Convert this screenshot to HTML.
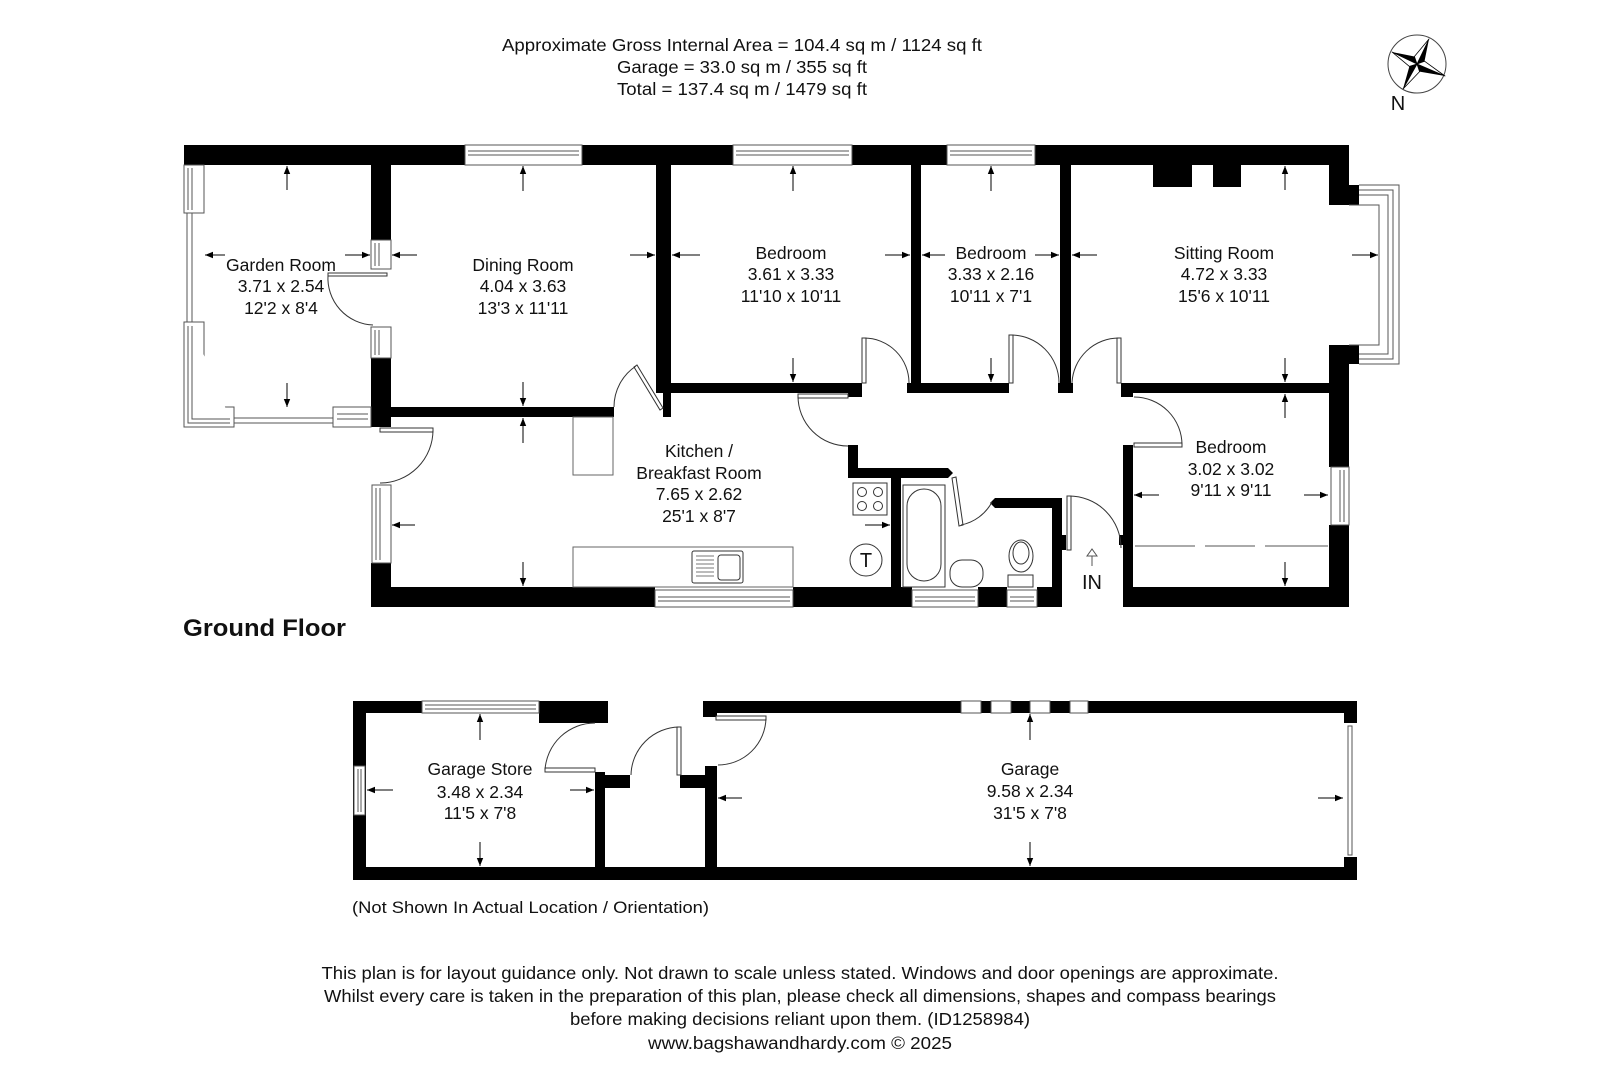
<!DOCTYPE html>
<html><head><meta charset="utf-8"><style>
html,body{margin:0;padding:0;background:#fff}
svg{display:block}
text{font-family:"Liberation Sans",Arial,sans-serif;fill:#111}
</style></head><body>
<svg width="1600" height="1080" viewBox="0 0 1600 1080" xmlns="http://www.w3.org/2000/svg">
<defs>
<marker id="ah" viewBox="0 0 10 10" refX="10" refY="5" markerWidth="8" markerHeight="8" markerUnits="userSpaceOnUse" orient="auto"><path d="M0,1 L10,5 L0,9 z" fill="#000"/></marker>
</defs>

<!-- header -->
<g font-size="17.5" text-anchor="middle">
<text x="742" y="51" textLength="480" lengthAdjust="spacingAndGlyphs">Approximate Gross Internal Area = 104.4 sq m / 1124 sq ft</text>
<text x="742" y="73" textLength="250" lengthAdjust="spacingAndGlyphs">Garage = 33.0 sq m / 355 sq ft</text>
<text x="742" y="95" textLength="250" lengthAdjust="spacingAndGlyphs">Total = 137.4 sq m / 1479 sq ft</text>
</g>

<!-- compass -->
<g stroke-linejoin="round">
<circle cx="1417" cy="64" r="29" fill="none" stroke="#444" stroke-width="1"/>
<path d="M1417,64 L1429,39 L1424.5,61.2 z" fill="#000"/>
<path d="M1417,64 L1429,39 L1414.4,56.5 z" fill="#fff" stroke="#000" stroke-width="0.8"/>
<path d="M1417,64 L1445,76 L1419.6,71.6 z" fill="#000"/>
<path d="M1417,64 L1445,76 L1424.5,61.2 z" fill="#fff" stroke="#000" stroke-width="0.8"/>
<path d="M1417,64 L1403,89 L1409.4,66.4 z" fill="#000"/>
<path d="M1417,64 L1403,89 L1419.6,71.6 z" fill="#fff" stroke="#000" stroke-width="0.8"/>
<path d="M1417,64 L1392,52 L1414.4,56.5 z" fill="#000"/>
<path d="M1417,64 L1392,52 L1409.4,66.4 z" fill="#fff" stroke="#000" stroke-width="0.8"/>
<text x="1398" y="110" font-size="20" text-anchor="middle">N</text>
</g>

<!-- ============ GROUND FLOOR WALLS ============ -->
<g fill="#000">
<rect x="184" y="145" width="1165" height="20"/>
<rect x="371" y="145" width="20" height="95"/>
<rect x="371" y="358" width="20" height="69"/>
<rect x="391" y="407" width="223" height="10"/>
<rect x="656" y="145" width="15" height="248"/>
<rect x="663" y="393" width="8" height="24"/>
<rect x="671" y="383" width="191" height="10"/>
<rect x="848" y="383" width="14" height="14"/>
<rect x="911" y="165" width="10" height="228"/>
<rect x="907" y="383" width="102" height="10"/>
<rect x="1060" y="165" width="11" height="228"/>
<rect x="1058" y="383" width="15" height="10"/>
<rect x="1121" y="383" width="228" height="10"/>
<rect x="1121" y="383" width="12" height="14"/>
<rect x="1153" y="165" width="39" height="22"/>
<rect x="1213" y="165" width="28" height="22"/>
<rect x="1329" y="145" width="20" height="60"/>
<rect x="1329" y="185" width="30" height="20"/>
<rect x="1329" y="345" width="30" height="19"/>
<rect x="1329" y="345" width="20" height="122"/>
<rect x="1329" y="525" width="20" height="82"/>
<rect x="1123" y="587" width="226" height="20"/>
<rect x="1123" y="445" width="10" height="162"/>
<rect x="1119" y="535" width="14" height="10"/>
<rect x="371" y="563" width="20" height="44"/>
<rect x="371" y="587" width="284" height="20"/>
<rect x="793" y="587" width="119" height="20"/>
<rect x="978" y="587" width="29" height="20"/>
<rect x="1037" y="587" width="25" height="20"/>
<rect x="848" y="445" width="10" height="33"/>
<path d="M848,468 L948,468 L953,473 L948,478 L848,478 z"/>
<rect x="891" y="478" width="10" height="128"/>
<path d="M995,498 L1062,498 L1062,508 L995,508 L990,503 z"/>
<rect x="1052" y="498" width="10" height="109"/>
<rect x="1062" y="535" width="4" height="15"/>
</g>

<!-- windows (ground floor) -->
<g fill="#fff" stroke="#555" stroke-width="1">
<rect x="465" y="145" width="117" height="20"/><line x1="468" y1="151" x2="579" y2="151"/><line x1="468" y1="155" x2="579" y2="155"/>
<rect x="733" y="145" width="119" height="20"/><line x1="736" y1="151" x2="849" y2="151"/><line x1="736" y1="155" x2="849" y2="155"/>
<rect x="947" y="145" width="88" height="20"/><line x1="950" y1="151" x2="1032" y2="151"/><line x1="950" y1="155" x2="1032" y2="155"/>
<rect x="184" y="165" width="20" height="48"/><line x1="188" y1="168" x2="188" y2="210"/><line x1="192" y1="168" x2="192" y2="210"/>
<rect x="187" y="213" width="5" height="109"/>
<path d="M184,322 L204,322 L204,407 L234,407 L234,427 L184,427 z"/>
<path d="M188,326 L188,423 L230,423 M192,326 L192,419 L230,419"/>
<rect x="234" y="418" width="99" height="5"/>
<rect x="333" y="407" width="38" height="20"/><line x1="337" y1="414" x2="368" y2="414"/><line x1="337" y1="419" x2="368" y2="419"/>
<rect x="371" y="240" width="20" height="29"/><line x1="375" y1="243" x2="375" y2="266"/><line x1="379" y1="243" x2="379" y2="266"/>
<rect x="371" y="327" width="20" height="31"/><line x1="375" y1="330" x2="375" y2="355"/><line x1="379" y1="330" x2="379" y2="355"/>
<rect x="372" y="485" width="19" height="78"/><line x1="376" y1="488" x2="376" y2="560"/><line x1="380" y1="488" x2="380" y2="560"/>
<rect x="655" y="590" width="138" height="17"/><line x1="658" y1="597" x2="790" y2="597"/><line x1="658" y1="601" x2="790" y2="601"/>
<rect x="912" y="590" width="66" height="17"/><line x1="915" y1="597" x2="975" y2="597"/><line x1="915" y1="601" x2="975" y2="601"/>
<rect x="1007" y="590" width="30" height="17"/><line x1="1010" y1="597" x2="1034" y2="597"/><line x1="1010" y1="601" x2="1034" y2="601"/>
<rect x="1331" y="467" width="18" height="58"/><line x1="1340" y1="470" x2="1340" y2="522"/><line x1="1344" y1="470" x2="1344" y2="522"/>
<path d="M1359,185 L1399,185 L1399,364 L1359,364" fill="none"/>
<path d="M1359,190 L1393,190 L1393,359 L1359,359" fill="none"/>
<path d="M1359,195 L1388,195 L1388,354 L1359,354" fill="none"/>
<path d="M1349,205 L1379,205 L1379,345 L1349,345" fill="none"/>
</g>

<!-- doors -->
<g fill="none" stroke="#333" stroke-width="1">
<rect x="328" y="273" width="59" height="3" fill="#fff"/>
<path d="M328,275 A47,47 0 0 0 373,325"/>
<rect x="380" y="428" width="53" height="4" fill="#fff"/>
<path d="M433,430 A53,53 0 0 1 380,483"/>
<path d="M637,365 L663,408 L660,410 L634,367 z" fill="#fff"/>
<path d="M614,407 A49,49 0 0 1 636,366"/>
<rect x="798" y="394" width="50" height="4" fill="#fff"/>
<path d="M798,396 A50,50 0 0 0 848,446"/>
<rect x="862" y="338" width="4" height="45" fill="#fff"/>
<path d="M864,338 A45,45 0 0 1 909,383"/>
<rect x="1009" y="335" width="4" height="48" fill="#fff"/>
<path d="M1011,335 A48,48 0 0 1 1059,383"/>
<rect x="1117" y="338" width="4" height="45" fill="#fff"/>
<path d="M1119,338 A47,47 0 0 0 1072,383"/>
<rect x="1134" y="443" width="48" height="4" fill="#fff"/>
<path d="M1134,397 A48,48 0 0 1 1182,445"/>
<path d="M952,478 L956,477 L963,525 L959,526 z" fill="#fff"/>
<path d="M961,525 A45,45 0 0 0 992,502"/>
<rect x="1067" y="496" width="4" height="54" fill="#fff"/>
<path d="M1069,496 A52,52 0 0 1 1121,548"/>
<rect x="573" y="417" width="40" height="58" stroke="#666"/>
<rect x="573" y="547" width="220" height="40" stroke="#666"/>
<rect x="692" y="551" width="51" height="32" rx="2"/>
<rect x="718" y="555" width="22" height="25" rx="3"/>
<path d="M696,556 h18 M696,560 h18 M696,564 h18 M696,568 h18 M696,572 h18 M696,576 h18" stroke="#777"/>
<rect x="853" y="483" width="34" height="32"/>
<circle cx="862" cy="492" r="4.5"/><circle cx="878" cy="492" r="4.5"/><circle cx="862" cy="506" r="4.5"/><circle cx="878" cy="506" r="4.5"/>
<circle cx="866" cy="560" r="16"/>
<rect x="903" y="485" width="42" height="102"/>
<rect x="907" y="489" width="34" height="92" rx="17"/>
<rect x="950" y="560" width="33" height="27" rx="12"/>
<rect x="1008" y="575" width="25" height="12"/>
<ellipse cx="1021" cy="556" rx="12" ry="16"/>
<ellipse cx="1021" cy="553" rx="8" ry="11"/>
<path d="M1135,546 H1195 M1205,546 H1255 M1265,546 H1328" stroke="#555"/>
<path d="M1092,566 V556 H1087 L1092,549 L1097,556 H1092" stroke="#555"/>
</g>

<!-- dimension arrows -->
<g stroke="#000" stroke-width="1" marker-end="url(#ah)">
<line x1="287" y1="190" x2="287" y2="166"/>
<line x1="287" y1="383" x2="287" y2="407"/>
<line x1="225" y1="255" x2="205" y2="255"/>
<line x1="345" y1="255" x2="370" y2="255"/>
<line x1="523" y1="191" x2="523" y2="166"/>
<line x1="523" y1="382" x2="523" y2="406"/>
<line x1="417" y1="255" x2="392" y2="255"/>
<line x1="630" y1="255" x2="655" y2="255"/>
<line x1="523" y1="443" x2="523" y2="418"/>
<line x1="523" y1="562" x2="523" y2="586"/>
<line x1="415" y1="525" x2="392" y2="525"/>
<line x1="865" y1="525" x2="890" y2="525"/>
<line x1="793" y1="191" x2="793" y2="166"/>
<line x1="793" y1="358" x2="793" y2="382"/>
<line x1="700" y1="255" x2="672" y2="255"/>
<line x1="885" y1="255" x2="910" y2="255"/>
<line x1="991" y1="191" x2="991" y2="166"/>
<line x1="991" y1="358" x2="991" y2="382"/>
<line x1="945" y1="255" x2="922" y2="255"/>
<line x1="1035" y1="255" x2="1059" y2="255"/>
<line x1="1097" y1="255" x2="1072" y2="255"/>
<line x1="1352" y1="255" x2="1378" y2="255"/>
<line x1="1285" y1="190" x2="1285" y2="166"/>
<line x1="1285" y1="358" x2="1285" y2="382"/>
<line x1="1285" y1="418" x2="1285" y2="394"/>
<line x1="1285" y1="562" x2="1285" y2="586"/>
<line x1="1159" y1="495" x2="1134" y2="495"/>
<line x1="1304" y1="495" x2="1328" y2="495"/>
<line x1="480" y1="740" x2="480" y2="714"/>
<line x1="480" y1="842" x2="480" y2="866"/>
<line x1="393" y1="790" x2="367" y2="790"/>
<line x1="570" y1="790" x2="594" y2="790"/>
<line x1="1030" y1="740" x2="1030" y2="714"/>
<line x1="1030" y1="842" x2="1030" y2="866"/>
<line x1="742" y1="798" x2="718" y2="798"/>
<line x1="1318" y1="798" x2="1343" y2="798"/>
</g>

<!-- room labels -->
<g font-size="17.5" text-anchor="middle">
<text x="281" y="271">Garden Room</text><text x="281" y="292">3.71 x 2.54</text><text x="281" y="314">12'2 x 8'4</text>
<text x="523" y="271">Dining Room</text><text x="523" y="292">4.04 x 3.63</text><text x="523" y="314">13'3 x 11'11</text>
<text x="791" y="259">Bedroom</text><text x="791" y="280">3.61 x 3.33</text><text x="791" y="302">11'10 x 10'11</text>
<text x="991" y="259">Bedroom</text><text x="991" y="280">3.33 x 2.16</text><text x="991" y="302">10'11 x 7'1</text>
<text x="1224" y="259">Sitting Room</text><text x="1224" y="280">4.72 x 3.33</text><text x="1224" y="302">15'6 x 10'11</text>
<text x="699" y="457">Kitchen /</text><text x="699" y="479">Breakfast Room</text><text x="699" y="500">7.65 x 2.62</text><text x="699" y="522">25'1 x 8'7</text>
<text x="1231" y="453">Bedroom</text><text x="1231" y="475">3.02 x 3.02</text><text x="1231" y="496">9'11 x 9'11</text>
<text x="866" y="567" font-size="20">T</text>
<text x="1092" y="589" font-size="20">IN</text>
<text x="480" y="775">Garage Store</text><text x="480" y="798">3.48 x 2.34</text><text x="480" y="819">11'5 x 7'8</text>
<text x="1030" y="775">Garage</text><text x="1030" y="797">9.58 x 2.34</text><text x="1030" y="819">31'5 x 7'8</text>
</g>
<text x="183" y="636" font-size="24" font-weight="bold" textLength="163" lengthAdjust="spacingAndGlyphs">Ground Floor</text>

<!-- ============ GARAGE ============ -->
<g fill="#000">
<rect x="353" y="701" width="255" height="12"/>
<rect x="539" y="701" width="69" height="22"/>
<rect x="353" y="701" width="13" height="179"/>
<rect x="353" y="867" width="1004" height="13"/>
<rect x="595" y="772" width="10" height="108"/>
<rect x="595" y="775" width="35" height="13"/>
<rect x="680" y="775" width="37" height="13"/>
<rect x="705" y="766" width="12" height="114"/>
<rect x="703" y="701" width="654" height="12"/>
<rect x="703" y="701" width="14" height="16"/>
<rect x="1344" y="701" width="13" height="22"/>
<rect x="1344" y="857" width="13" height="23"/>
</g>
<g fill="#fff" stroke="#555" stroke-width="1">
<rect x="422" y="701" width="117" height="12"/><line x1="425" y1="705" x2="536" y2="705"/><line x1="425" y1="709" x2="536" y2="709"/>
<rect x="354" y="766" width="11" height="49"/><line x1="358" y1="769" x2="358" y2="812"/><line x1="361" y1="769" x2="361" y2="812"/>
<rect x="961" y="701" width="20" height="12"/><rect x="991" y="701" width="20" height="12"/><rect x="1030" y="701" width="20" height="12"/><rect x="1070" y="701" width="18" height="12"/>
<rect x="1348" y="726" width="4" height="129"/>
</g>
<g fill="none" stroke="#333" stroke-width="1">
<rect x="545" y="768" width="50" height="4" fill="#fff"/>
<path d="M545,770 A50,50 0 0 1 595,723"/>
<rect x="677" y="727" width="4" height="48" fill="#fff"/>
<path d="M631,775 A49,49 0 0 1 679,727"/>
<rect x="716" y="716" width="50" height="4" fill="#fff"/>
<path d="M766,718 A48,48 0 0 1 718,765"/>
</g>

<!-- footer -->
<text x="352" y="913" font-size="17" textLength="357" lengthAdjust="spacingAndGlyphs">(Not Shown In Actual Location / Orientation)</text>
<g font-size="17.5" text-anchor="middle">
<text x="800" y="979" textLength="957" lengthAdjust="spacingAndGlyphs">This plan is for layout guidance only. Not drawn to scale unless stated. Windows and door openings are approximate.</text>
<text x="800" y="1002" textLength="952" lengthAdjust="spacingAndGlyphs">Whilst every care is taken in the preparation of this plan, please check all dimensions, shapes and compass bearings</text>
<text x="800" y="1025" textLength="460" lengthAdjust="spacingAndGlyphs">before making decisions reliant upon them. (ID1258984)</text>
<text x="800" y="1049" textLength="304" lengthAdjust="spacingAndGlyphs">www.bagshawandhardy.com © 2025</text>
</g>
</svg>
</body></html>
